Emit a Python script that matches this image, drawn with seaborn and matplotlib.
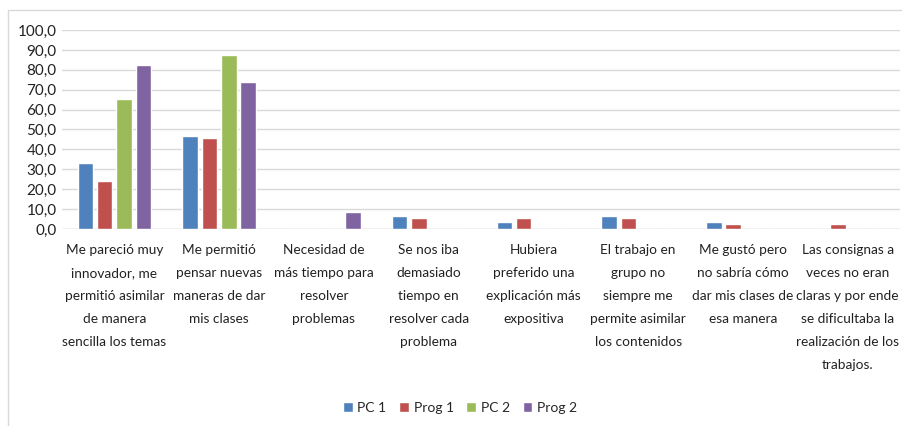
import numpy as np
import pandas as pd
import matplotlib
matplotlib.use("Agg")
import matplotlib.pyplot as plt
import seaborn as sns
from matplotlib.patches import Rectangle
from matplotlib.ticker import FuncFormatter

# data
categories = [
    "Me pareció muy\ninnovador, me\npermitió asimilar\nde manera\nsencilla los temas",
    "Me permitió\npensar nuevas\nmaneras de dar\nmis clases",
    "Necesidad de\nmás tiempo para\nresolver\nproblemas",
    "Se nos iba\ndemasiado\ntiempo en\nresolver cada\nproblema",
    "Hubiera\npreferido una\nexplicación más\nexpositiva",
    "El trabajo en\ngrupo no\nsiempre me\npermite asimilar\nlos contenidos",
    "Me gustó pero\nno sabría cómo\ndar mis clases de\nesa manera",
    "Las consignas a\nveces no eran\nclaras y por ende\nse dificultaba la\nrealización de los\ntrabajos.",
]
series = ["PC 1", "Prog 1", "PC 2", "Prog 2"]
pc1 = [33.3, 46.7, 0.0, 6.7, 3.3, 6.7, 3.3, 0.0]
prog1 = [24.2, 45.5, 0.0, 5.6, 5.6, 5.6, 2.6, 2.6]
pc2 = [65.2, 87.5, 0.0, 0.0, 0.0, 0.0, 0.0, 0.0]
prog2 = [82.6, 73.9, 8.7, 0.0, 0.0, 0.0, 0.0, 0.0]
colors = ["#4F81BD", "#C0504D", "#9BBB59", "#8064A2"]

rows = []
for name, vals in zip(series, [pc1, prog1, pc2, prog2]):
    for cat, v in zip(categories, vals):
        rows.append({"cat": cat, "serie": name, "valor": v})
df = pd.DataFrame(rows)

sns.set_style("white")
plt.rcParams["font.family"] = ["Lato", "DejaVu Sans"]

fig = plt.figure(figsize=(9.02, 4.26), dpi=100)
ax = fig.add_axes([62 / 902, 1 - 229 / 426, 838 / 902, 199 / 426])

sns.barplot(data=df, x="cat", y="valor", hue="serie", order=categories,
            hue_order=series, palette=colors, width=0.74, gap=0.2,
            saturation=1, ax=ax, errorbar=None)

ax.set_ylim(0, 100)
ax.set_xlim(-0.5, len(categories) - 0.5)
ax.set_yticks(np.arange(0, 101, 10))
ax.yaxis.set_major_formatter(FuncFormatter(lambda v, p: f"{v:.1f}".replace(".", ",")))
ax.yaxis.grid(True, color="#D9D9D9", linewidth=1)
ax.set_axisbelow(True)
for s in ax.spines.values():
    s.set_visible(False)
ax.axhline(0, color="#D9D9D9", linewidth=1, zorder=0)
ax.tick_params(axis="y", length=0, labelsize=11, pad=4, labelcolor="#222222")
ax.tick_params(axis="x", length=0, labelsize=9.8, pad=11, labelcolor="#222222")
ax.set_xticks(range(len(categories)))
ax.set_xticklabels(categories, linespacing=2.1, va="top")
ax.set_xlabel("")
ax.set_ylabel("")

leg = ax.legend(loc="center", bbox_to_anchor=(0.475, -0.9), ncol=4, frameon=False,
                fontsize=10, handlelength=0.7, handleheight=0.7,
                handletextpad=0.35, columnspacing=0.9)

# faint outer chart border
fig.patches.append(Rectangle((8 / 902, -0.05), 1.0, 1 - 10 / 426 + 0.05,
                             transform=fig.transFigure, fill=False,
                             edgecolor="#D9D9D9", linewidth=1))

fig.savefig("out.png", dpi=100)
